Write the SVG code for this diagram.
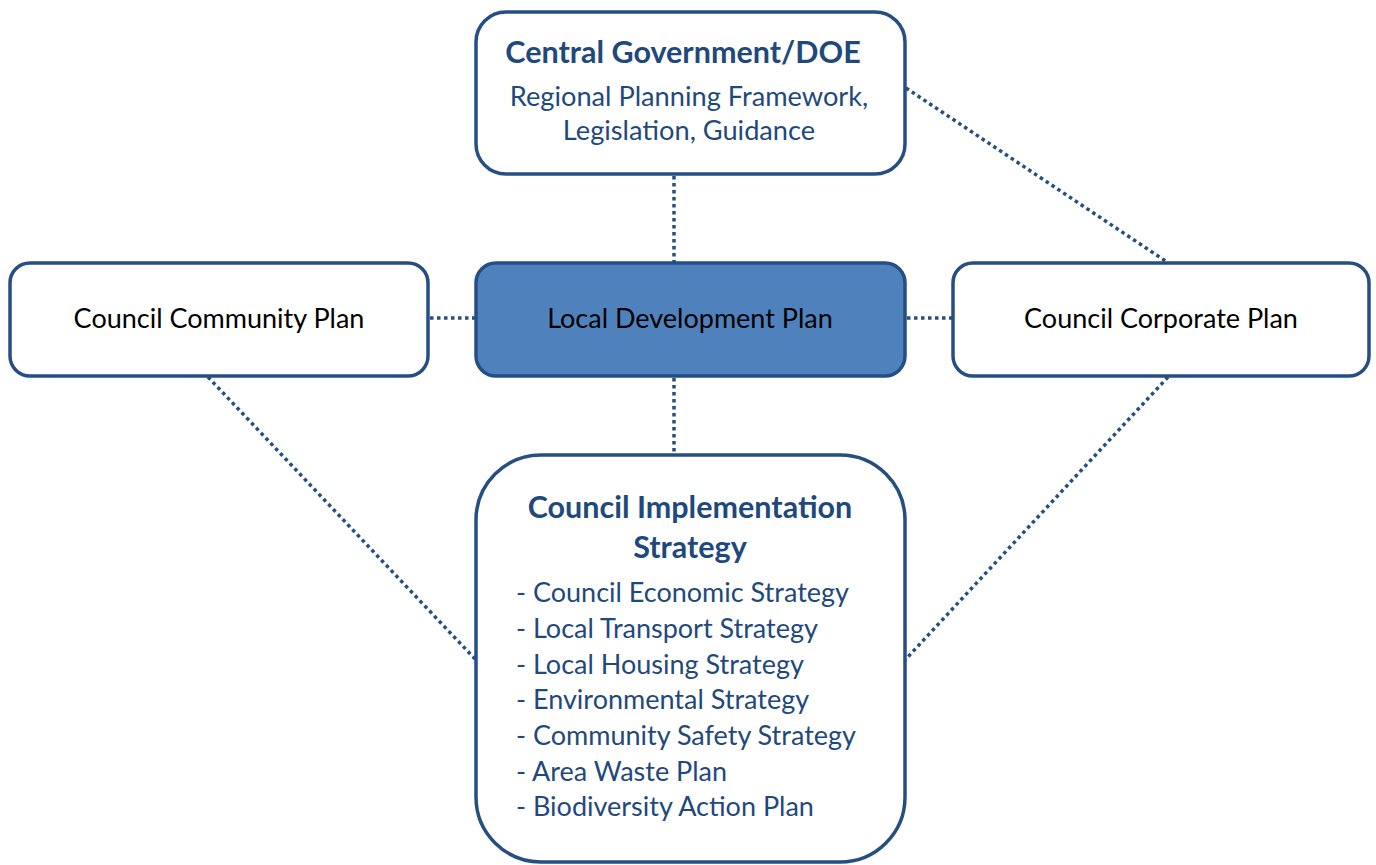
<svg xmlns="http://www.w3.org/2000/svg" width="1376" height="865" viewBox="0 0 1376 865">
  <style>
    .box { fill: #ffffff; stroke: #254f82; stroke-width: 3.5; }
    .core { fill: #4f81bd; stroke: #254f82; stroke-width: 3.5; }
    .link { fill: none; stroke: #254f82; stroke-width: 3.5; stroke-dasharray: 3.5 3.5; }
    text { font-family: Lato, "Open Sans", "Liberation Sans", sans-serif; }
    .head { font-size: 30.5px; font-weight: bold; fill: #1f497d; text-anchor: middle; }
    .sub { font-size: 27.2px; fill: #1f497d; text-anchor: middle; }
    .plain { font-size: 27px; fill: #000000; text-anchor: middle; }
    .item { font-size: 27px; fill: #1f497d; }
  </style>

  <!-- dotted relationships between plans -->
  <g id="connectors">
    <line class="link" x1="674" y1="176" x2="674" y2="262"/>
    <line class="link" x1="674" y1="378" x2="674" y2="454"/>
    <line class="link" x1="430" y1="318" x2="475" y2="318"/>
    <line class="link" x1="907" y1="318" x2="952" y2="318"/>
    <line class="link" x1="906" y1="88" x2="1167" y2="262"/>
    <line class="link" x1="208" y1="377" x2="476" y2="660"/>
    <line class="link" x1="1168" y1="377" x2="905" y2="660"/>
  </g>

  <g id="central-government">
    <rect class="box" x="476" y="12" width="429" height="162" rx="30"/>
    <text class="head" x="683" y="63">Central Government/DOE</text>
    <text class="sub" x="689" y="106">Regional Planning Framework,</text>
    <text class="sub" x="689" y="140">Legislation, Guidance</text>
  </g>

  <g id="community-plan">
    <rect class="box" x="10" y="263" width="418" height="113" rx="20"/>
    <text class="plain" x="219" y="328">Council Community Plan</text>
  </g>

  <g id="local-development-plan">
    <rect class="core" x="476" y="263" width="429" height="113" rx="20"/>
    <text class="plain" x="690" y="328">Local Development Plan</text>
  </g>

  <g id="corporate-plan">
    <rect class="box" x="953" y="263" width="416" height="113" rx="20"/>
    <text class="plain" x="1161" y="328">Council Corporate Plan</text>
  </g>

  <g id="implementation-strategy">
    <rect class="box" x="476" y="455" width="429" height="407" rx="65"/>
    <text class="head" x="690" y="518">Council Implementation</text>
    <text class="head" x="690" y="558">Strategy</text>
    <text class="item" x="516" y="602">- Council Economic Strategy</text>
    <text class="item" x="516" y="638">- Local Transport Strategy</text>
    <text class="item" x="516" y="674">- Local Housing Strategy</text>
    <text class="item" x="516" y="709">- Environmental Strategy</text>
    <text class="item" x="516" y="745">- Community Safety Strategy</text>
    <text class="item" x="516" y="781">- Area Waste Plan</text>
    <text class="item" x="516" y="816">- Biodiversity Action Plan</text>
  </g>
</svg>
